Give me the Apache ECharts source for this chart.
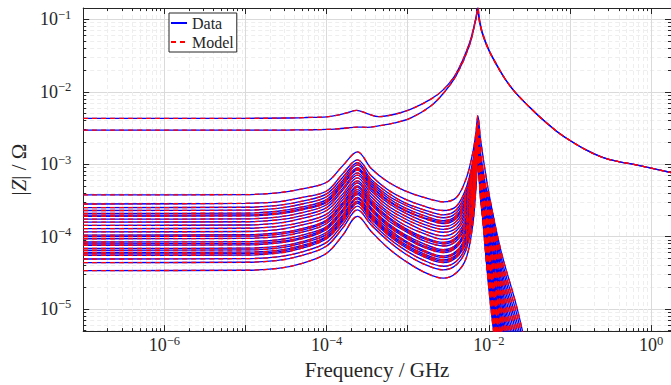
<!DOCTYPE html>
<html>
<head>
<meta charset="utf-8">
<script src="https://cdn.jsdelivr.net/npm/echarts@6/dist/echarts.min.js"></script>
<style>
  html, body { margin: 0; padding: 0; background: #fff; }
  #chart { width: 671px; height: 385px; }
</style>
</head>
<body>
<div id="chart"></div>
<script>
// all values are log10: frequency in GHz, |Z| in Ohm

// two upper curves
const upperFreqLog = [-7, -5.0, -4.5, -4.25, -4.0, -3.85, -3.75, -3.63, -3.5, -3.36, -3.16, -2.96, -2.72, -2.56, -2.40, -2.24, -2.16, -2.136, -2.116, -2.08, -2.0, -1.895, -1.795, -1.68, -1.5, -1.34, -1.17, -0.99, -0.79, -0.59, -0.4, -0.23, 0, 0.245]
const upperA = [-2.366, -2.366, -2.362, -2.355, -2.345, -2.32, -2.29, -2.256, -2.30, -2.343, -2.31, -2.24, -2.105, -1.97, -1.74, -1.33, -0.98, -0.84, -1.0, -1.18, -1.42, -1.64, -1.83, -2.0, -2.21, -2.38, -2.54, -2.68, -2.81, -2.91, -2.965, -3.0, -3.055, -3.115]
const upperB = [-2.53, -2.53, -2.528, -2.525, -2.52, -2.51, -2.50, -2.488, -2.49, -2.47, -2.43, -2.36, -2.20, -2.02, -1.77, -1.36, -1.0, -0.88, -1.03, -1.2, -1.43, -1.65, -1.83, -2.0, -2.21, -2.38, -2.54, -2.68, -2.81, -2.91, -2.965, -3.0, -3.055, -3.115]

// lower bundle, one row per curve
const lowerFreqLog = [-7, -5.0, -4.6, -4.3, -4.0, -3.8, -3.62, -3.45, -3.25, -3.04, -2.8, -2.56, -2.4, -2.28, -2.2, -2.16, -2.136, -2.1, -2.0, -1.85, -1.65, -1.45]
const lowerCurves = [
  [-3.425, -3.42, -3.395, -3.34, -3.25, -3.02, -2.83, -3.06, -3.24, -3.365, -3.46, -3.52, -3.46, -3.20, -2.85, -2.57, -2.33, -2.68, -3.40, -4.20, -5.00, -6.0],
  [-3.55, -3.54, -3.52, -3.46, -3.37, -3.13, -2.94, -3.16, -3.35, -3.48, -3.58, -3.64, -3.58, -3.33, -2.97, -2.66, -2.40, -3.12, -4.61, -5.95, -7.3, -8.8],
  [-3.60, -3.595, -3.57, -3.51, -3.41, -3.18, -2.98, -3.21, -3.39, -3.53, -3.63, -3.70, -3.63, -3.38, -3.02, -2.70, -2.43, -2.97, -4.03, -5.11, -6.2, -7.4],
  [-3.64, -3.635, -3.61, -3.55, -3.45, -3.22, -3.01, -3.24, -3.43, -3.56, -3.67, -3.74, -3.67, -3.43, -3.06, -2.73, -2.46, -2.86, -3.56, -4.43, -5.3, -6.4],
  [-3.68, -3.675, -3.65, -3.59, -3.49, -3.25, -3.05, -3.27, -3.46, -3.60, -3.71, -3.78, -3.71, -3.47, -3.09, -2.76, -2.48, -3.15, -4.46, -5.72, -7.0, -8.4],
  [-3.705, -3.70, -3.675, -3.615, -3.515, -3.28, -3.07, -3.30, -3.49, -3.63, -3.74, -3.80, -3.73, -3.49, -3.11, -2.78, -2.50, -2.96, -3.77, -4.73, -5.7, -6.8],
  [-3.72, -3.715, -3.69, -3.63, -3.53, -3.29, -3.08, -3.31, -3.50, -3.64, -3.75, -3.82, -3.75, -3.51, -3.13, -2.79, -2.51, -3.12, -4.24, -5.42, -6.6, -7.9],
  [-3.76, -3.755, -3.73, -3.67, -3.56, -3.33, -3.12, -3.34, -3.53, -3.67, -3.79, -3.86, -3.79, -3.55, -3.17, -2.82, -2.53, -3.28, -4.72, -6.10, -7.5, -9],
  [-3.80, -3.795, -3.77, -3.71, -3.60, -3.36, -3.15, -3.37, -3.57, -3.71, -3.83, -3.90, -3.83, -3.60, -3.21, -2.85, -2.55, -2.98, -3.66, -4.58, -5.5, -6.6],
  [-3.845, -3.84, -3.815, -3.75, -3.64, -3.41, -3.19, -3.41, -3.61, -3.75, -3.87, -3.94, -3.88, -3.64, -3.25, -2.88, -2.58, -3.15, -4.14, -5.26, -6.4, -7.7],
  [-3.89, -3.885, -3.86, -3.80, -3.69, -3.45, -3.23, -3.45, -3.65, -3.79, -3.92, -3.99, -3.92, -3.69, -3.30, -2.92, -2.61, -3.31, -4.56, -5.87, -7.2, -8.6],
  [-3.935, -3.93, -3.905, -3.84, -3.73, -3.49, -3.26, -3.49, -3.68, -3.84, -3.96, -4.04, -3.97, -3.74, -3.34, -2.95, -2.63, -3.14, -3.93, -4.96, -6.0, -7.2],
  [-3.98, -3.975, -3.95, -3.89, -3.77, -3.53, -3.30, -3.52, -3.72, -3.88, -4.01, -4.08, -4.01, -3.78, -3.38, -2.98, -2.66, -3.04, -3.51, -4.35, -5.2, -6.2],
  [-4.00, -3.995, -3.97, -3.91, -3.79, -3.55, -3.32, -3.54, -3.74, -3.90, -4.03, -4.10, -4.03, -3.80, -3.40, -3.00, -2.67, -3.31, -4.35, -5.57, -6.8, -8.2],
  [-4.03, -4.025, -4.00, -3.94, -3.82, -3.58, -3.35, -3.56, -3.77, -3.92, -4.06, -4.13, -4.06, -3.84, -3.43, -3.02, -2.69, -3.42, -4.67, -6.02, -7.4, -8.9],
  [-4.075, -4.07, -4.045, -3.98, -3.86, -3.62, -3.38, -3.60, -3.81, -3.97, -4.10, -4.18, -4.11, -3.88, -3.47, -3.06, -2.72, -3.25, -3.98, -5.04, -6.1, -7.3],
  [-4.10, -4.095, -4.07, -4.01, -3.88, -3.64, -3.40, -3.62, -3.83, -3.99, -4.13, -4.20, -4.13, -3.91, -3.50, -3.08, -2.73, -3.18, -3.72, -4.66, -5.6, -6.7],
  [-4.12, -4.115, -4.09, -4.03, -3.90, -3.66, -3.42, -3.64, -3.85, -4.01, -4.15, -4.22, -4.15, -3.93, -3.52, -3.09, -2.74, -3.43, -4.51, -5.80, -7.1, -8.5],
  [-4.165, -4.16, -4.135, -4.07, -3.94, -3.70, -3.46, -3.68, -3.88, -4.05, -4.19, -4.27, -4.20, -3.98, -3.56, -3.12, -2.77, -3.14, -3.45, -4.28, -5.1, -6.1],
  [-4.19, -4.185, -4.16, -4.09, -3.97, -3.72, -3.48, -3.70, -3.91, -4.07, -4.21, -4.29, -4.22, -4.01, -3.58, -3.14, -2.78, -3.34, -4.09, -5.19, -6.3, -7.6],
  [-4.22, -4.215, -4.19, -4.12, -4.00, -3.75, -3.51, -3.72, -3.93, -4.10, -4.24, -4.32, -4.25, -4.04, -3.61, -3.16, -2.80, -3.45, -4.40, -5.64, -6.9, -8.3],
  [-4.24, -4.235, -4.21, -4.14, -4.01, -3.77, -3.52, -3.74, -3.95, -4.12, -4.26, -4.34, -4.27, -4.06, -3.63, -3.17, -2.81, -3.29, -3.82, -4.81, -5.8, -7.0],
  [-4.26, -4.255, -4.23, -4.16, -4.03, -3.79, -3.54, -3.76, -3.97, -4.14, -4.28, -4.36, -4.29, -4.08, -3.65, -3.19, -2.83, -3.42, -4.19, -5.34, -6.5, -7.8],
  [-4.31, -4.305, -4.28, -4.21, -4.08, -3.83, -3.58, -3.80, -4.01, -4.18, -4.33, -4.41, -4.34, -4.13, -3.70, -3.23, -2.86, -3.27, -3.61, -4.50, -5.4, -6.5],
  [-4.36, -4.355, -4.33, -4.26, -4.13, -3.88, -3.63, -3.84, -4.05, -4.23, -4.38, -4.46, -4.39, -4.18, -3.75, -3.27, -2.89, -3.51, -4.30, -5.49, -6.7, -8.0],
  [-4.47, -4.465, -4.44, -4.37, -4.23, -3.98, -3.72, -3.93, -4.15, -4.33, -4.49, -4.575, -4.50, -4.30, -3.85, -3.35, -2.95, -3.44, -3.88, -4.88, -5.9, -7.1]
]

// axis ranges and tick labels (decades)
const xRange = [-7, 0.245]
const yRange = [-5.306, -0.842]
const xLabelDecades = [-6, -4, -2, 0]
const yLabelDecades = [-5, -4, -3, -2, -1]

const font = "'Liberation Serif', 'DejaVu Serif', serif"
const ink = '#262626'

// decade and 2..9 positions inside a range
const decadesIn = (r) => {
  const out = []
  for (let n = Math.ceil(r[0]); n <= Math.floor(r[1]); n++) out.push(n)
  return out
}
const minorsIn = (r) => {
  const out = []
  for (let n = Math.floor(r[0]); n <= Math.ceil(r[1]); n++) {
    for (let k = 2; k <= 9; k++) {
      const v = n + Math.log10(k)
      if (v >= r[0] && v <= r[1]) out.push(v)
    }
  }
  return out
}

const powLabel = (v) => {
  const n = Math.round(v)
  return '{b|10}{s|' + (n < 0 ? '\u2212' + (-n) : n) + '}'
}
const labelRich = {
  b: { fontFamily: font, fontSize: 18, lineHeight: 22, color: ink },
  s: { fontFamily: font, fontSize: 12.5, lineHeight: 12, color: ink, verticalAlign: 'top' }
}

const majorAxis = (range, pos, labels, labelMargin) => ({
  type: 'value', position: pos, min: range[0], max: range[1],
  axisLine: { show: true, onZero: false, lineStyle: { color: ink, width: 1 } },
  axisTick: { show: true, inside: true, length: 6, customValues: decadesIn(range), lineStyle: { color: ink } },
  axisLabel: labels ? {
    show: true, customValues: labels, formatter: powLabel, margin: labelMargin, rich: labelRich
  } : { show: false },
  splitLine: { show: labels != null, lineStyle: { color: '#dadada', width: 1 } }
})
const minorAxis = (range, pos, grid) => ({
  type: 'value', position: pos, min: range[0], max: range[1],
  axisLine: { show: false, onZero: false },
  axisTick: { show: true, inside: true, length: 3, customValues: minorsIn(range), lineStyle: { color: ink } },
  axisLabel: { show: false },
  splitLine: { show: grid, lineStyle: { color: '#eeeeee', width: 1, type: [4, 3] } }
})

const pairs = (xs, ys) => xs.map((x, i) => [x, ys[i]])

const dataSeries = []
const modelSeries = []
const addCurve = (xs, ys) => {
  dataSeries.push({
    name: 'Data', type: 'line', data: pairs(xs, ys), symbol: 'none', smooth: 0.35,
    lineStyle: { color: '#0000ff', width: 1.3 }, itemStyle: { color: '#0000ff' }, z: 2
  })
  modelSeries.push({
    name: 'Model', type: 'line', data: pairs(xs, ys), symbol: 'none', smooth: 0.35,
    lineStyle: { color: '#ff0000', width: 1.3, type: [5, 4] }, itemStyle: { color: '#ff0000' }, z: 3
  })
}
addCurve(upperFreqLog, upperA)
addCurve(upperFreqLog, upperB)
lowerCurves.forEach(c => addCurve(lowerFreqLog, c))

const chart = echarts.init(document.getElementById('chart'), null, { renderer: 'svg' })
chart.setOption({
  animation: false,
  backgroundColor: '#fff',
  grid: { left: 72, right: -1, top: 8, bottom: 52, containLabel: false },
  legend: {
    data: ['Data', 'Model'],
    orient: 'vertical',
    left: 169, top: 13,
    padding: [2, 3, 2, 1],
    itemGap: 3,
    itemWidth: 16, itemHeight: 14,
    backgroundColor: '#fff',
    borderColor: ink, borderWidth: 1,
    itemStyle: { color: 'rgba(0,0,0,0)', borderWidth: 0, borderColor: 'rgba(0,0,0,0)' },
    textStyle: { fontFamily: font, fontSize: 16, color: ink }
  },
  xAxis: [
    Object.assign(majorAxis(xRange, 'bottom', xLabelDecades, 3), {
      name: 'Frequency / GHz', nameLocation: 'middle', nameGap: 26,
      nameTextStyle: { fontFamily: font, fontSize: 21, color: ink }
    }),
    minorAxis(xRange, 'bottom', true),
    majorAxis(xRange, 'top', null),
    minorAxis(xRange, 'top', false)
  ],
  yAxis: [
    Object.assign(majorAxis(yRange, 'left', yLabelDecades, 12), {
      name: '|{i|Z}| / \u03a9', nameLocation: 'middle', nameGap: 42,
      nameTextStyle: {
        fontFamily: font, fontSize: 21, color: ink,
        rich: { i: { fontFamily: font, fontSize: 21, fontStyle: 'italic', color: ink } }
      }
    }),
    minorAxis(yRange, 'left', true),
    majorAxis(yRange, 'right', null),
    minorAxis(yRange, 'right', false)
  ],
  series: dataSeries.concat(modelSeries)
})
</script>
</body>
</html>
